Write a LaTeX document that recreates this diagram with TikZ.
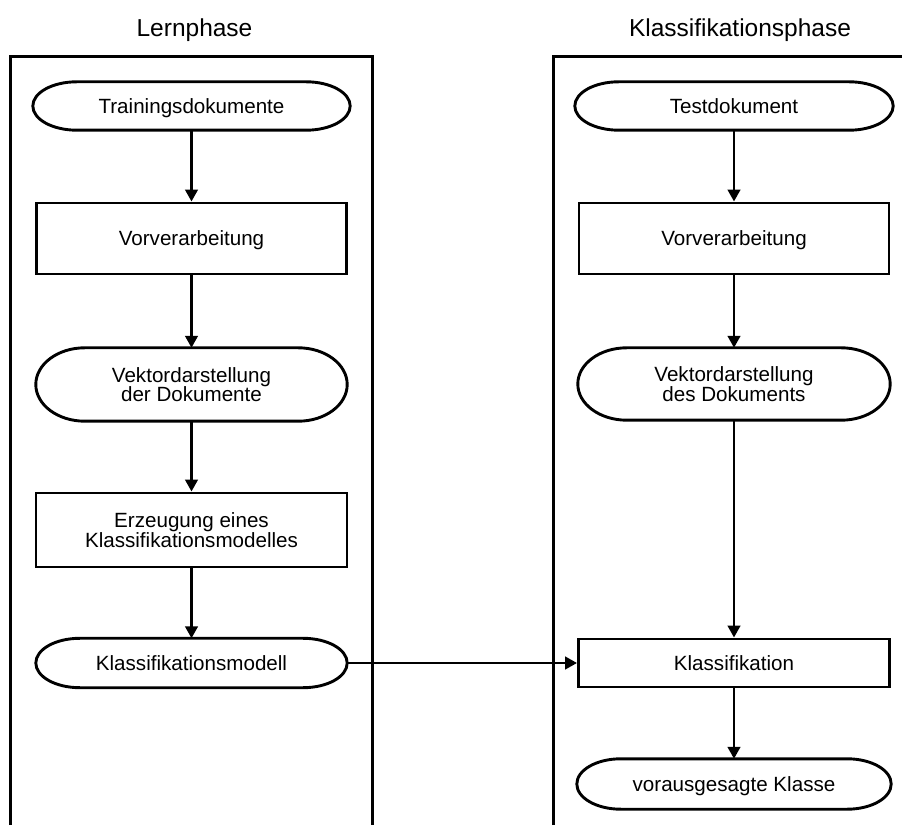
\documentclass[tikz,border=0pt]{standalone}
\usepackage{fontspec}
\setmainfont{Liberation Sans}
\usetikzlibrary{arrows.meta,calc}

% Outline with elliptical ends around a (borderless) node
\newcommand\terminaloutline[2]{%
  \draw[outline] let \p1=(#1.north east), \p2=(#1.south west), \n1={(\y1-\y2)/2} in
    ({\x2+#2pt},\y1) -- ({\x1-#2pt},\y1)
    arc[start angle=90, end angle=-90, x radius=#2pt, y radius=\n1]
    -- ({\x2+#2pt},\y2)
    arc[start angle=270, end angle=90, x radius=#2pt, y radius=\n1] -- cycle;}

\begin{document}
\begin{tikzpicture}[x=1pt, y=1pt,
  every node/.style={font=\fontsize{20.6}{19.8}\selectfont, align=center, inner sep=0pt, text depth=0pt},
  heading/.style={font=\fontsize{24.5}{28}\selectfont},
  outline/.style={line width=2.9pt, line join=round},
  frame/.style={line width=3pt},
  procbox/.style={draw, line width=2.9pt},
  terminal/.style={draw=none},
  flow/.style={line width=2.8pt, -{Triangle[length=12pt, width=12.5pt]}}]

\useasboundingbox (0,0) rectangle (902,825);

% swimlane frames, open at the bottom
\draw[frame] (10,0) -- (10,768) -- (372,768) -- (372,0);
\draw[frame] (553,0) -- (553,768) -- (902,768);

\node[heading] (lern) at (194.5,797) {Lernphase};
\node[heading] (klass) at (740,797) {Klassifikationsphase};

% learning phase
\node[terminal, minimum width=317, minimum height=48] (train) at (191.5,719) {Trainingsdokumente};
\node[procbox, minimum width=310, minimum height=71] (vorL) at (191.5,586.5) {Vorverarbeitung};
\node[terminal, minimum width=311, minimum height=73] (vekL) at (191.5,440.5) {Vektordarstellung\\der Dokumente};
\node[procbox, minimum width=311, minimum height=74] (erz) at (191.5,295) {Erzeugung eines\\Klassifikationsmodelles};
\node[terminal, minimum width=311, minimum height=49] (modell) at (191.5,162) {Klassifikationsmodell};

% classification phase
\node[terminal, minimum width=318, minimum height=48] (test) at (734,719) {Testdokument};
\node[procbox, minimum width=310, minimum height=71] (vorR) at (734,586.5) {Vorverarbeitung};
\node[terminal, minimum width=312, minimum height=72] (vekR) at (734,441) {Vektordarstellung\\des Dokuments};
\node[procbox, minimum width=311, minimum height=48] (klf) at (734,162) {Klassifikation};
\node[terminal, minimum width=314, minimum height=50] (ergebnis) at (734,41) {vorausgesagte Klasse};

\terminaloutline{train}{44}
\terminaloutline{vekL}{49}
\terminaloutline{modell}{44}
\terminaloutline{test}{44}
\terminaloutline{vekR}{49}
\terminaloutline{ergebnis}{44}

% connectors
\draw[flow] (train.south) -- (vorL.north);
\draw[flow] (vorL.south) -- (vekL.north);
\draw[flow] (vekL.south) -- (erz.north);
\draw[flow] (erz.south) -- (modell.north);
\draw[flow] (test.south) -- (vorR.north);
\draw[flow] (vorR.south) -- (vekR.north);
\draw[flow] (vekR.south) -- (klf.north);
\draw[flow] (klf.south) -- (ergebnis.north);
\draw[flow] (modell.east) -- (klf.west);
\end{tikzpicture}
\end{document}
